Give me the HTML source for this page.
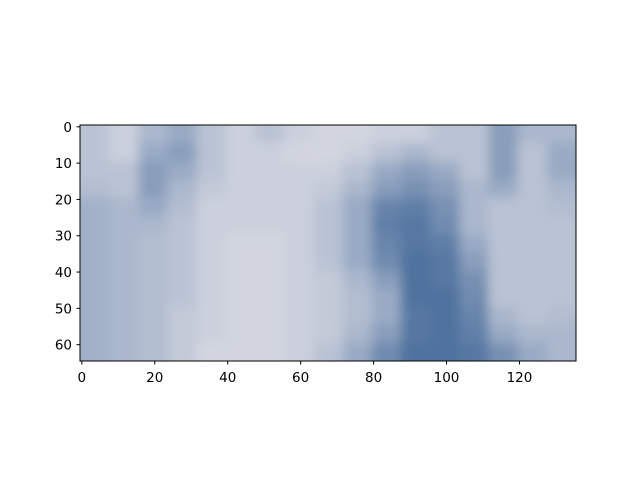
<!DOCTYPE html>
<html><head><meta charset="utf-8"><style>
body{margin:0;background:#fff;width:640px;height:480px;overflow:hidden}
text{font-family:"DejaVu Sans","Liberation Sans",sans-serif;font-size:13.5px;fill:#000}
</style></head><body>
<svg id="c" width="640" height="480">
<defs>
<clipPath id="clip"><rect x="80" y="125" width="496" height="236"/></clipPath>
<filter id="blur" x="-10%" y="-10%" width="120%" height="120%"><feGaussianBlur stdDeviation="5.5"/></filter>
</defs>
<g id="img" clip-path="url(#clip)"><g id="cells" filter="url(#blur)"></g></g>
<rect x="80" y="125" width="496" height="236" fill="none" stroke="#000" stroke-width="1"/>
<g id="ax"></g>
</svg>
<script>
const xTicks=[0,20,40,60,80,100,120];
const yTicks=[0,10,20,30,40,50,60];
const cellW=8, cellH=5, imgW=136, imgH=65;
const blue=[
[0.3,0.2,0.4,0.5,0.3,0.2,0.3,0.2,0.15,0.15,0.2,0.2,0.3,0.3,0.6,0.4,0.4],
[0.3,0.2,0.5,0.6,0.3,0.2,0.2,0.15,0.15,0.2,0.3,0.4,0.3,0.3,0.6,0.3,0.5],
[0.3,0.3,0.6,0.5,0.3,0.2,0.2,0.2,0.2,0.3,0.5,0.6,0.5,0.3,0.6,0.3,0.5],
[0.35,0.3,0.6,0.4,0.25,0.2,0.2,0.2,0.25,0.4,0.6,0.7,0.6,0.4,0.5,0.3,0.4],
[0.45,0.4,0.5,0.35,0.2,0.2,0.2,0.2,0.3,0.5,0.8,0.85,0.7,0.4,0.3,0.3,0.35],
[0.45,0.4,0.4,0.3,0.2,0.2,0.2,0.2,0.3,0.5,0.85,0.9,0.75,0.4,0.3,0.3,0.3],
[0.45,0.4,0.35,0.3,0.2,0.15,0.15,0.2,0.3,0.5,0.8,0.9,0.85,0.5,0.3,0.3,0.3],
[0.45,0.4,0.35,0.3,0.2,0.15,0.15,0.2,0.3,0.5,0.75,0.95,0.9,0.6,0.3,0.3,0.3],
[0.45,0.4,0.35,0.3,0.2,0.15,0.15,0.2,0.25,0.4,0.6,0.95,0.9,0.7,0.3,0.3,0.3],
[0.45,0.4,0.35,0.3,0.2,0.15,0.15,0.2,0.25,0.35,0.5,0.95,0.95,0.75,0.3,0.3,0.3],
[0.45,0.4,0.35,0.25,0.2,0.15,0.15,0.2,0.25,0.35,0.5,0.9,0.95,0.8,0.4,0.3,0.35],
[0.45,0.4,0.35,0.25,0.2,0.15,0.15,0.2,0.25,0.4,0.6,0.9,0.95,0.85,0.5,0.4,0.4],
[0.45,0.4,0.35,0.25,0.15,0.15,0.15,0.2,0.3,0.5,0.75,0.95,0.95,0.9,0.7,0.5,0.4]
];
const NS="http://www.w3.org/2000/svg";
const X0=80,Y0=125,W=496,H=236;
const sx=v=>X0+(v+0.5)*W/imgW;
const sy=v=>Y0+(v+0.5)*H/imgH;
const px=v=>X0+v*W/imgW, py=v=>Y0+v*H/imgH;
const L=[216,218,227], D=[79,114,159];
function col(v){const t=Math.max(0,v-0.12)/0.83;return 'rgb('+L.map((l,i)=>Math.round(l+(D[i]-l)*t)).join(',')+')';}
const cells=document.getElementById('cells');
blue.forEach((row,r)=>row.forEach((v,c)=>{
  let x1=px(c*cellW), x2=px(Math.min((c+1)*cellW,imgW)), y1=py(r*cellH), y2=py((r+1)*cellH);
  if(c===0)x1-=30; if(c===row.length-1)x2+=30; if(r===0)y1-=30; if(r===blue.length-1)y2+=30;
  const e=document.createElementNS(NS,'rect');
  e.setAttribute('x',x1);e.setAttribute('y',y1);e.setAttribute('width',x2-x1+0.5);e.setAttribute('height',y2-y1+0.5);
  e.setAttribute('fill',col(v));
  
  
  cells.appendChild(e);
}));
const ax=document.getElementById('ax');
xTicks.forEach(t=>{
  const x=sx(t);
  const l=document.createElementNS(NS,'line');
  l.setAttribute('x1',x);l.setAttribute('x2',x);l.setAttribute('y1',361);l.setAttribute('y2',364.5);l.setAttribute('stroke','#000');
  
  
  ax.appendChild(l);
  const s=document.createElementNS(NS,'text');
  s.setAttribute('x',x);s.setAttribute('y',382);s.setAttribute('text-anchor','middle');s.textContent=t;
  
  
  ax.appendChild(s);
});
yTicks.forEach(t=>{
  const y=sy(t);
  const l=document.createElementNS(NS,'line');
  l.setAttribute('x1',76.5);l.setAttribute('x2',80);l.setAttribute('y1',y);l.setAttribute('y2',y);l.setAttribute('stroke','#000');
  
  
  ax.appendChild(l);
  const s=document.createElementNS(NS,'text');
  s.setAttribute('x',72);s.setAttribute('y',y+5);s.setAttribute('text-anchor','end');s.textContent=t;
  
  
  ax.appendChild(s);
});
</script>
</body></html>
